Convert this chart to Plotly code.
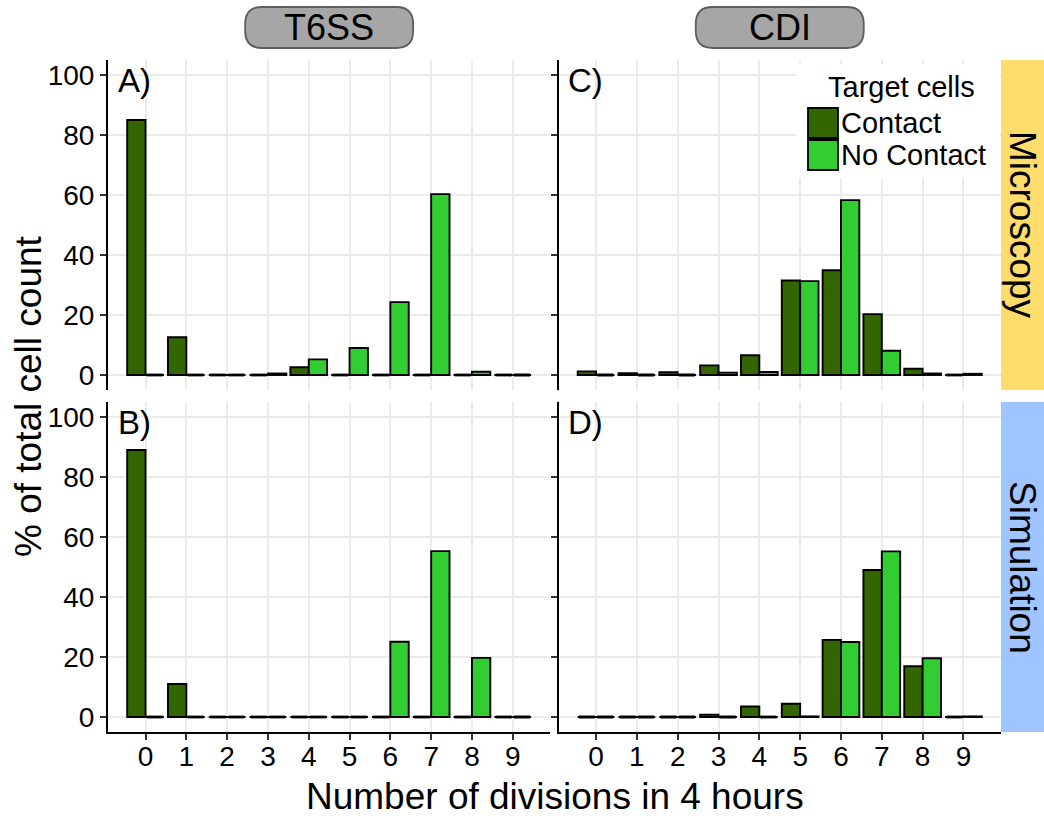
import plotly.graph_objects as go

# Number of divisions (x categories)
divisions = list(range(10))
tick_labels = [str(d) for d in divisions]

# % of total cell count per division count
t6ss_micro_contact = [85.0, 12.6, 0, 0, 2.6, 0, 0, 0, 0, 0]
t6ss_micro_nocontact = [0, 0, 0, 0.5, 5.2, 9.0, 24.3, 60.3, 1.1, 0]
cdi_micro_contact = [1.2, 0.6, 0.9, 3.2, 6.6, 31.5, 34.9, 20.3, 2.1, 0]
cdi_micro_nocontact = [0, 0, 0, 0.8, 1.0, 31.3, 58.3, 8.1, 0.5, 0.4]
t6ss_sim_contact = [89.0, 11.0, 0, 0, 0, 0, 0, 0, 0, 0]
t6ss_sim_nocontact = [0, 0, 0, 0, 0, 0, 25.1, 55.3, 19.7, 0]
cdi_sim_contact = [0, 0, 0, 0.8, 3.5, 4.4, 25.7, 49.0, 16.9, 0]
cdi_sim_nocontact = [0, 0, 0, 0, 0, 0.2, 25.0, 55.2, 19.6, 0.2]

series_names = ["Contact", "No Contact"]
col_labels = ["T6SS", "CDI"]
row_labels = ["Microscopy", "Simulation"]
panel_tags = ["A)", "C)", "B)", "D)"]

DARK = "#336600"
LIGHT = "#32CD32"
FONT = "Liberation Sans"

W, H = 1044, 816
ML, MR, MT, MB = 108, 43, 60, 84
PW, PH = W - ML - MR, H - MT - MB


def px_x(x):
    return (x - ML) / PW


def px_y(y):
    return (H - MB - y) / PH


x_dom = [[0, px_x(550.3)], [px_x(558.5), 1]]
y_dom = [[px_y(390), 1], [0, px_y(402)]]

# (xaxis id, yaxis id, row, col, contact, no contact)
panels = [
    ("x", "y", 0, 0, t6ss_micro_contact, t6ss_micro_nocontact),
    ("x2", "y2", 0, 1, cdi_micro_contact, cdi_micro_nocontact),
    ("x3", "y3", 1, 0, t6ss_sim_contact, t6ss_sim_nocontact),
    ("x4", "y4", 1, 1, cdi_sim_contact, cdi_sim_nocontact),
]

fig = go.Figure()
BAR_W = 0.45

for xa, ya, r, c, contact, nocontact in panels:
    for vals, colr, name, off in [(contact, DARK, series_names[0], -BAR_W / 2),
                                  (nocontact, LIGHT, series_names[1], BAR_W / 2)]:
        fig.add_trace(go.Bar(
            x=divisions, y=vals, name=name, xaxis=xa, yaxis=ya,
            width=BAR_W, offset=off - BAR_W / 2,
            marker=dict(color=colr, line=dict(color="black", width=1.9)),
            showlegend=False,
        ))
        # zero-height bars still show their outline as a flat segment
        sx, sy = [], []
        for d, v in zip(divisions, vals):
            if v == 0:
                sx += [d + off - BAR_W / 2 + 0.03, d + off + BAR_W / 2 - 0.03, None]
                sy += [0, 0, None]
        if sx:
            fig.add_trace(go.Scatter(
                x=sx, y=sy, mode="lines", xaxis=xa, yaxis=ya,
                line=dict(color="black", width=2.8), hoverinfo="skip",
                showlegend=False,
            ))

layout = dict(
    width=W, height=H, margin=dict(l=ML, r=MR, t=MT, b=MB),
    paper_bgcolor="white", plot_bgcolor="white",
    barmode="overlay", showlegend=False,
    font=dict(family=FONT, color="black", size=28),
)

for i, (xa, ya, r, c, _, _) in enumerate(panels):
    xk = "xaxis" + xa[1:]
    yk = "yaxis" + ya[1:]
    bottom = r == 1
    left = c == 0
    layout[xk] = dict(
        domain=x_dom[c], anchor=ya, range=[-0.92, 9.92],
        tickmode="array", tickvals=divisions, ticktext=tick_labels,
        showticklabels=bottom, ticks="outside" if bottom else "",
        ticklen=6, tickwidth=1.5, tickcolor="#333333",
        ticklabelstandoff=-8,
        showline=bottom, linecolor="black", linewidth=2,
        showgrid=True, gridcolor="#EBEBEB", gridwidth=2, zeroline=False,
        tickfont=dict(size=28, family=FONT, color="black"),
    )
    layout[yk] = dict(
        domain=y_dom[r], anchor=xa, range=[-5, 105],
        tickmode="array", tickvals=[0, 20, 40, 60, 80, 100],
        showticklabels=left, ticks="outside", ticklen=6, tickwidth=1.5,
        tickcolor="#333333",
        showline=True, linecolor="black", linewidth=2,
        showgrid=True, gridcolor="#EBEBEB", gridwidth=2, zeroline=False,
        tickfont=dict(size=28, family=FONT, color="black"),
    )

fig.update_layout(**layout)

shapes = []
annotations = []


def rounded_path(x0, y0, x1, y1, rad):
    pts = [
        ("M", [(x0 + rad, y0)]), ("L", [(x1 - rad, y0)]), ("Q", [(x1, y0), (x1, y0 + rad)]),
        ("L", [(x1, y1 - rad)]), ("Q", [(x1, y1), (x1 - rad, y1)]),
        ("L", [(x0 + rad, y1)]), ("Q", [(x0, y1), (x0, y1 - rad)]),
        ("L", [(x0, y0 + rad)]), ("Q", [(x0, y0), (x0 + rad, y0)]),
    ]
    out = ""
    for cmd, ps in pts:
        out += cmd + " " + " ".join(f"{px_x(a):.5f},{px_y(b):.5f}" for a, b in ps) + " "
    return out + "Z"


# column strips (rounded grey boxes)
for c, lab in enumerate(col_labels):
    cx_px = ML + (x_dom[c][0] + x_dom[c][1]) / 2 * PW
    shapes.append(dict(type="path", xref="paper", yref="paper",
                       path=rounded_path(cx_px - 84, 7, cx_px + 84, 48, 17),
                       fillcolor="#A6A6A6", line=dict(color="#5E5E5E", width=1.8),
                       layer="above"))
    annotations.append(dict(text=lab, xref="paper", yref="paper",
                            x=px_x(cx_px), y=px_y(28), xanchor="center", yanchor="middle",
                            showarrow=False, font=dict(size=36, family=FONT, color="black")))

# row strips (coloured bands on the right)
row_colors = ["#FFDC6C", "#A0C4FF"]
for r, lab in enumerate(row_labels):
    shapes.append(dict(type="rect", xref="paper", yref="paper",
                       x0=1.0, x1=px_x(W), y0=y_dom[r][0], y1=y_dom[r][1],
                       fillcolor=row_colors[r], line=dict(width=0), layer="above"))
    annotations.append(dict(text=lab, xref="paper", yref="paper",
                            x=px_x(1023), y=(y_dom[r][0] + y_dom[r][1]) / 2,
                            xanchor="center", yanchor="middle", textangle=90,
                            showarrow=False, font=dict(size=37, family=FONT, color="black")))

# panel tags
for (xa, ya, r, c, _, _), tag in zip(panels, panel_tags):
    annotations.append(dict(text=tag, xref=xa + " domain", yref=ya + " domain",
                            x=0.018, y=1.0, xanchor="left", yanchor="top",
                            showarrow=False, font=dict(size=33, family=FONT, color="black")))

# legend drawn inside the top-right panel
shapes.append(dict(type="rect", xref="paper", yref="paper",
                   x0=px_x(796), x1=px_x(1000), y0=px_y(178), y1=px_y(64),
                   fillcolor="white", line=dict(width=0), layer="above"))
annotations.append(dict(text="Target cells", xref="paper", yref="paper",
                        x=px_x(901), y=px_y(87), xanchor="center", yanchor="middle",
                        showarrow=False, font=dict(size=29, family=FONT, color="black")))
for k, (name, colr) in enumerate(zip(series_names, [DARK, LIGHT])):
    top = 108 + 32 * k
    shapes.append(dict(type="rect", xref="paper", yref="paper",
                       x0=px_x(808), x1=px_x(838), y0=px_y(top + 30), y1=px_y(top),
                       fillcolor=colr, line=dict(color="black", width=1.8), layer="above"))
    annotations.append(dict(text=name, xref="paper", yref="paper",
                            x=px_x(839), y=px_y(top + 15), xanchor="left", yanchor="middle",
                            showarrow=False, font=dict(size=29, family=FONT, color="black")))

# axis titles
annotations.append(dict(text="Number of divisions in 4 hours", xref="paper", yref="paper",
                        x=0.5, y=px_y(796), xanchor="center", yanchor="middle",
                        height=36, valign="middle", borderpad=0,
                        showarrow=False, font=dict(size=37, family=FONT, color="black")))
annotations.append(dict(text="% of total cell count", xref="paper", yref="paper",
                        x=px_x(28), y=0.5, xanchor="center", yanchor="middle", textangle=-90,
                        showarrow=False, font=dict(size=37, family=FONT, color="black")))

fig.update_layout(shapes=shapes, annotations=annotations)
fig.write_html("out.html")
